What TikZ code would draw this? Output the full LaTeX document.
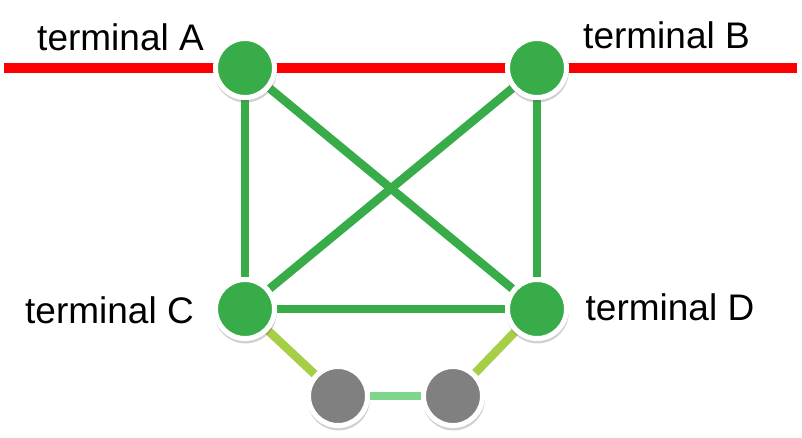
\documentclass[tikz,border=0pt]{standalone}
\usepackage{fontspec}
\setmainfont{Liberation Sans}
\usetikzlibrary{shadows}
\usetikzlibrary{backgrounds}

\definecolor{termgreen}{RGB}{57,172,74}
\definecolor{spurgreen}{RGB}{166,206,70}
\definecolor{palegreen}{RGB}{125,214,140}
\definecolor{relaygray}{RGB}{128,128,128}
\definecolor{railred}{RGB}{255,0,0}

\begin{document}
\begin{tikzpicture}[x=1pt, y=-1pt,
  terminal/.style={circle, fill=termgreen, draw=white, line width=5pt, minimum size=59pt, inner sep=0pt,
    drop shadow={shadow xshift=0.5pt, shadow yshift=-3pt, opacity=0.3, fill=black!60, shadow scale=1.06}},
  relay/.style={terminal, fill=relaygray},
  link/.style={line width=8.5pt, draw=termgreen},
  tag/.style={font=\fontsize{37}{41}\selectfont, anchor=base, inner sep=0pt}]
\useasboundingbox (0,0) rectangle (802,437);

\node[terminal] (A) at (245,68) {};
\node[terminal] (B) at (537,68) {};
\node[terminal] (C) at (245,309) {};
\node[terminal] (D) at (537,309) {};
\node[relay] (P) at (338,396) {};
\node[relay] (Q) at (453,396) {};

\coordinate (westend) at (4,68);
\coordinate (eastend) at (797,68);

\node[tag] (tA) at (120.5,50) {terminal A};
\node[tag] (tB) at (666.5,48) {terminal B};
\node[tag] (tC) at (109.5,323) {terminal C};
\node[tag] (tD) at (670,320) {terminal D};

\begin{scope}[on background layer]
\draw[line width=9.5pt, railred] (westend) -- (A.center);
\draw[line width=9.5pt, railred] (A.center) -- (B.center);
\draw[line width=9.5pt, railred] (B.center) -- (eastend);
\draw[link] (A) -- (C);
\draw[link] (A) -- (D);
\draw[link] (B) -- (C);
\draw[link] (B) -- (D);
\draw[link] (C) -- (D);
\draw[link, draw=spurgreen] (C) -- (P);
\draw[link, draw=spurgreen] (D) -- (Q);
\draw[link, draw=palegreen] (P) -- (Q);
\end{scope}
\end{tikzpicture}
\end{document}
